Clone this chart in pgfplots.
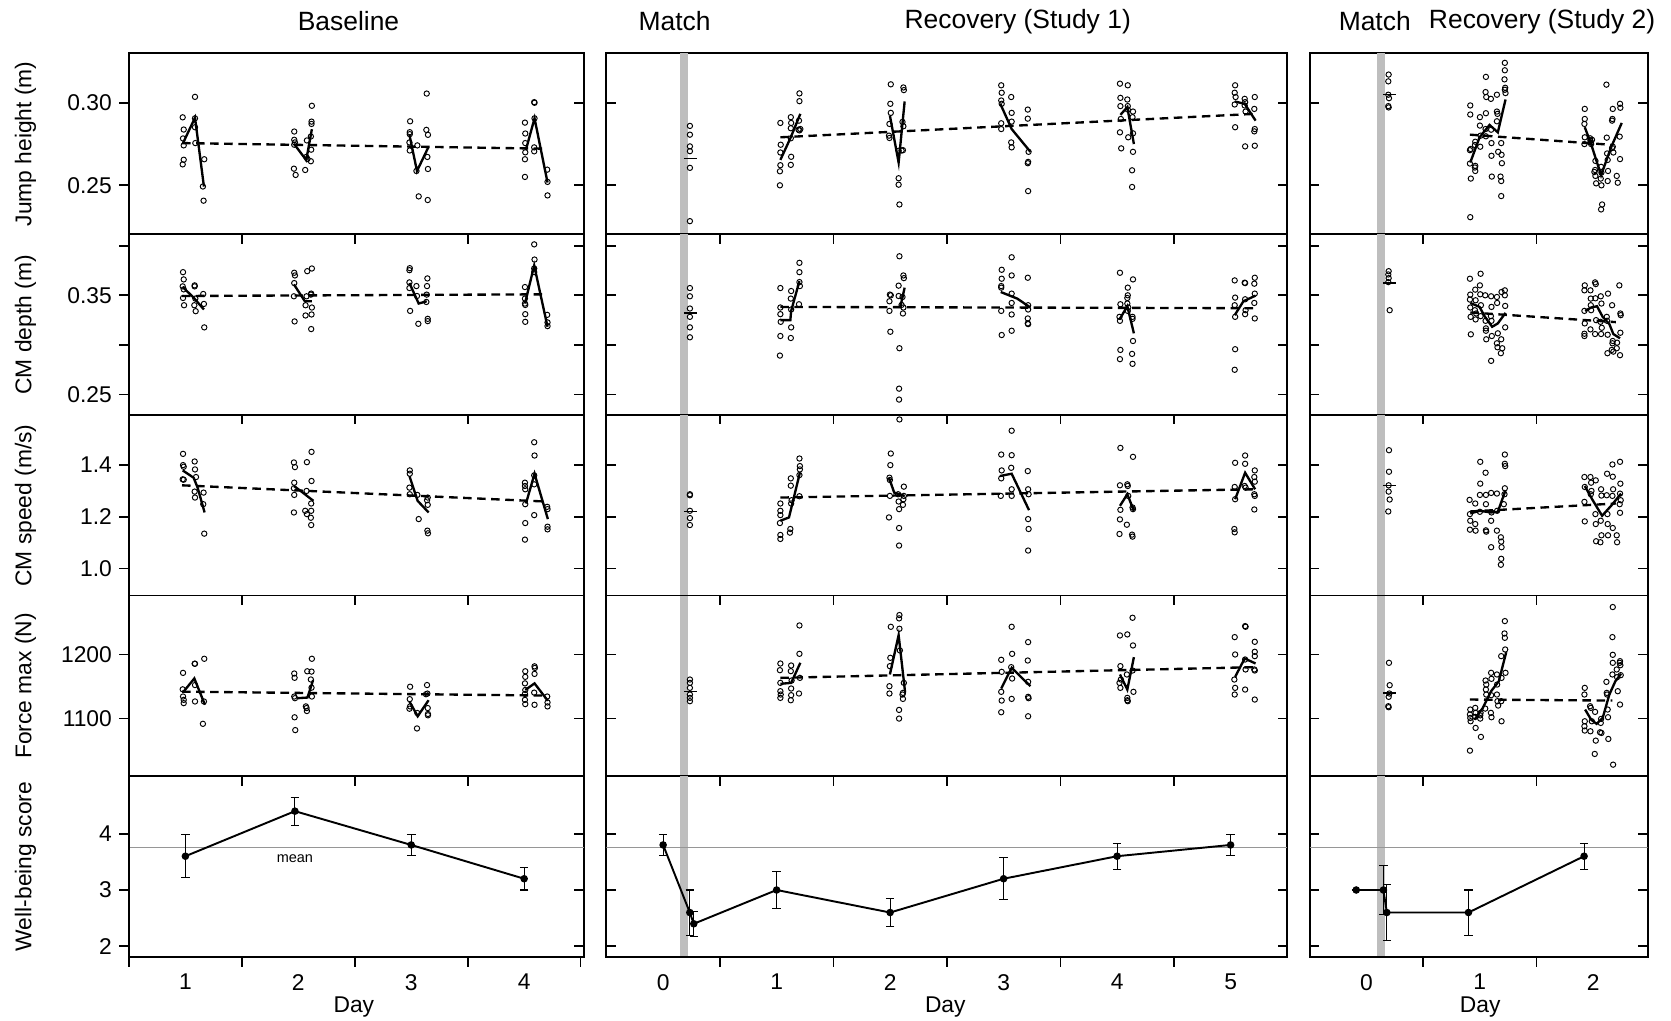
\documentclass[border=0pt]{standalone}
\usepackage{fontspec}
\setmainfont{Liberation Sans}
\usepackage{pgfplots}
\pgfplotsset{compat=1.18}
\newcommand{\lblfont}{\fontsize{10.7}{12.5}\selectfont}
\newcommand{\ttlfont}{\fontsize{12.4}{14}\selectfont}
\definecolor{band}{RGB}{190,190,190}
\definecolor{meanline}{RGB}{150,150,150}
\pgfplotsset{
 panel/.style={scale only axis, anchor=north west, height=84.8pt,
   axis line style={line width=0.9pt}, major tick length=4.5pt,
   tick style={black, line width=0.8pt}, tick align=inside,
   xticklabels={}, yticklabels={}, tick label style={font=\lblfont},
   /pgf/number format/assume math mode=true},
 c1/.style={at={(60.5pt,#1)}, width=213.5pt, xmin=0.5, xmax=4.53},
 c2/.style={at={(284.5pt,#1)}, width=319.5pt, xmin=-0.5, xmax=5.5},
 c3/.style={at={(614.5pt,#1)}, width=158.5pt, xmin=-0.5, xmax=2.48},
 r1/.style={ymin=0.2205, ymax=0.330, ytick={0.25,0.30}},
 r2/.style={ymin=0.2297, ymax=0.4117, ytick={0.25,0.30,0.35,0.40}},
 r3/.style={ymin=0.895, ymax=1.595, ytick={1.0,1.2,1.4}},
 r4/.style={ymin=1010, ymax=1292, ytick={1100,1200}},
 r5/.style={ymin=1.81, ymax=5.02, ytick={2,3,4}},
 top1/.style={xtick={1.5,2.5,3.5}, xtick pos=right},
 top2/.style={xtick={0.5,1.5,2.5,3.5,4.5}, xtick pos=right},
 top3/.style={xtick={0.5,1.5}, xtick pos=right},
 notop/.style={xtick=\empty},
 leftax/.style={axis x line=none, axis y line*=left, tick align=outside, ytick pos=left},
 botax/.style={axis y line=none, axis x line*=bottom, tick align=outside, xtick pos=left,
   extra x tick style={tick style={draw=none}}},
 pts/.style={only marks, mark=o, mark size=1.25pt, mark options={black, line width=0.45pt}},
 sol/.style={black, line width=1.1pt, mark=none},
 dsh/.style={black, line width=1.1pt, mark=none, dash pattern=on 4pt off 2.6pt},
 mtick/.style={black, line width=0.6pt, mark=none},
 wb/.style={black, line width=0.9pt, mark=*, mark size=1.3pt, mark options={black},
   error bars/.cd, y dir=both, y explicit, error bar style={line width=0.5pt},
   error mark options={rotate=90, mark size=2pt, line width=0.5pt}},
}
\begin{document}
\begin{tikzpicture}
\useasboundingbox (0pt,0pt) rectangle (784pt,-479pt);
% ================= COLUMN 1 =================
% Row 1
\begin{axis}[panel, c1=-25pt, r1, notop, ytick pos=right]
\addplot[pts] coordinates {(1.085,0.3036) (0.976,0.2912) (1.085,0.2906) (0.985,0.2838) (1.085,0.2852) (0.979,0.2784) (0.985,0.2742) (1.088,0.2756) (0.985,0.2655) (0.976,0.2627) (1.167,0.2658) (1.155,0.2493) (1.161,0.2407)
(1.964,0.2826) (1.964,0.2776) (1.970,0.2760) (1.964,0.2746) (1.961,0.2601) (1.976,0.2563) (2.061,0.2593) (2.076,0.2772) (2.070,0.2672) (2.081,0.2660) (2.111,0.2646) (2.120,0.2982) (2.117,0.2886) (2.117,0.2872) (2.111,0.2796) (2.114,0.2716)
(2.990,0.2888) (2.987,0.2822) (2.987,0.2810) (2.984,0.2760) (2.987,0.2711) (3.054,0.2742) (3.046,0.2587) (3.066,0.2433) (3.137,0.3056) (3.134,0.2836) (3.148,0.2806) (3.143,0.2672) (3.148,0.2599) (3.146,0.2411)
(4.007,0.2880) (4.010,0.2814) (4.010,0.2756) (4.010,0.2700) (4.007,0.2658) (4.007,0.2551) (4.092,0.3000) (4.089,0.3004) (4.092,0.2906) (4.089,0.2730) (4.089,0.2706) (4.204,0.2595) (4.207,0.2521) (4.207,0.2439)};
\addplot[sol] coordinates {(0.979,0.2756) (1.085,0.2910) (1.164,0.2493)};
\addplot[sol] coordinates {(1.961,0.2752) (2.070,0.2653) (2.120,0.2840)};
\addplot[sol] coordinates {(2.984,0.2806) (3.051,0.2587) (3.151,0.2730)};
\addplot[sol] coordinates {(4.016,0.2716) (4.092,0.2906) (4.207,0.2517)};
\addplot[dsh] coordinates {(0.97,0.2756) (4.19,0.2722)};
\end{axis}
\begin{axis}[panel, c1=-25pt, r1, leftax, yticklabels={0.25,0.30}]
\end{axis}
% Row 2
\begin{axis}[panel, c1=-109.8pt, r2, top1, ytick pos=right]
\addplot[pts] coordinates {(0.979,0.3733) (0.985,0.3660) (0.976,0.3590) (0.985,0.3560) (0.979,0.3473) (0.988,0.3400) (1.082,0.3600) (1.082,0.3590) (1.079,0.3400) (1.091,0.3340) (1.088,0.3467) (1.158,0.3513) (1.164,0.3413) (1.167,0.3177)
(1.964,0.3727) (1.970,0.3700) (1.964,0.3623) (1.961,0.3490) (1.967,0.3237) (2.079,0.3743) (2.120,0.3770) (2.073,0.3490) (2.114,0.3517) (2.111,0.3507) (2.064,0.3400) (2.120,0.3377) (2.064,0.3297) (2.117,0.3307) (2.114,0.3160)
(2.987,0.3773) (2.984,0.3753) (2.984,0.3630) (2.984,0.3573) (3.046,0.3593) (3.051,0.3493) (2.990,0.3343) (3.063,0.3213) (3.143,0.3670) (3.140,0.3593) (3.137,0.3507) (3.134,0.3433) (3.146,0.3263) (3.146,0.3240)
(4.007,0.3583) (4.007,0.3467) (4.007,0.3417) (4.010,0.3403) (4.010,0.3310) (4.010,0.3233) (4.089,0.4013) (4.092,0.3860) (4.089,0.3770) (4.089,0.3733) (4.204,0.3303) (4.207,0.3227) (4.207,0.3190)};
\addplot[sol] coordinates {(0.976,0.3583) (1.070,0.3480) (1.164,0.3357)};
\addplot[sol] coordinates {(1.961,0.3610) (2.058,0.3440) (2.120,0.3440)};
\addplot[sol] coordinates {(2.984,0.3623) (3.066,0.3417) (3.137,0.3440)};
\addplot[sol] coordinates {(4.007,0.3417) (4.089,0.3800) (4.207,0.3183)};
\addplot[dsh] coordinates {(0.97,0.3493) (4.19,0.3510)};
\end{axis}
\begin{axis}[panel, c1=-109.8pt, r2, leftax, yticklabels={0.25,,0.35,}]
\end{axis}
% Row 3
\begin{axis}[panel, c1=-194.6pt, r3, top1, ytick pos=right]
\addplot[pts] coordinates {(0.979,1.4436) (0.979,1.4000) (0.985,1.3936) (0.976,1.3449) (0.985,1.3436) (1.082,1.4141) (1.085,1.3833) (1.094,1.3538) (1.082,1.2974) (1.085,1.2744) (1.161,1.2936) (1.158,1.2487) (1.167,1.1346)
(1.961,1.4103) (1.970,1.3923) (2.076,1.4115) (2.117,1.4513) (1.964,1.3320) (1.961,1.3103) (1.964,1.2846) (2.117,1.3385) (2.073,1.3000) (2.061,1.2231) (2.076,1.2103) (2.114,1.2513) (2.114,1.2231) (2.111,1.1962) (2.114,1.1679) (1.961,1.2167)
(2.987,1.3795) (2.987,1.3667) (2.984,1.3128) (2.987,1.2872) (3.054,1.2846) (3.066,1.1910) (3.146,1.2744) (3.140,1.2641) (3.146,1.2462) (3.143,1.1462) (3.148,1.1359)
(4.089,1.4885) (4.092,1.4372) (4.089,1.3603) (4.089,1.3256) (4.007,1.3320) (4.007,1.3192) (4.010,1.3064) (4.010,1.2487) (4.010,1.1756) (4.007,1.1115) (4.089,1.2064) (4.204,1.2385) (4.207,1.2295) (4.207,1.1615) (4.207,1.1513)};
\addplot[sol] coordinates {(0.976,1.3795) (1.073,1.3510) (1.108,1.3130) (1.170,1.2167)};
\addplot[sol] coordinates {(1.961,1.3192) (2.028,1.2974) (2.134,1.2615)};
\addplot[sol] coordinates {(2.984,1.3577) (3.057,1.2615) (3.154,1.2167)};
\addplot[sol] coordinates {(4.016,1.2513) (4.092,1.3667) (4.210,1.1910)};
\addplot[dsh] coordinates {(0.97,1.3218) (4.19,1.2590)};
\end{axis}
\begin{axis}[panel, c1=-194.6pt, r3, leftax, yticklabels={1.0,1.2,1.4}]
\end{axis}
% Row 4
\begin{axis}[panel, c1=-279.4pt, r4, top1, ytick pos=right]
\addplot[pts] coordinates {(0.979,1171.3) (0.976,1145.6) (0.979,1134.4) (0.985,1129.2) (0.985,1124.1) (1.082,1185.6) (1.085,1185.6) (1.085,1152.3) (1.085,1126.7) (1.167,1193.3) (1.164,1126.7) (1.155,1091.8)
(1.964,1170.3) (1.967,1163.6) (1.964,1134.4) (1.970,1131.8) (2.079,1173.8) (2.117,1173.3) (2.111,1161.0) (2.120,1193.3) (2.117,1148.2) (2.120,1134.4) (2.067,1119.0) (2.073,1116.4) (2.076,1111.8) (1.967,1102.0) (1.973,1082.0)
(2.990,1149.7) (2.987,1130.3) (2.990,1119.0) (2.984,1115.4) (3.054,1108.7) (3.051,1084.6) (3.140,1152.3) (3.143,1139.0) (3.131,1138.0) (3.146,1116.4) (3.148,1107.2) (3.148,1105.1)
(4.010,1173.8) (4.010,1165.1) (4.007,1154.9) (4.010,1144.6) (4.007,1138.5) (4.007,1129.2) (4.010,1122.6) (4.092,1181.5) (4.095,1179.0) (4.092,1169.7) (4.089,1140.5) (4.092,1121.5) (4.204,1134.4) (4.207,1125.1) (4.207,1119.0)};
\addplot[sol] coordinates {(0.979,1141.0) (1.079,1162.6) (1.173,1121.5)};
\addplot[sol] coordinates {(1.993,1131.8) (2.081,1132.8) (2.131,1160.0)};
\addplot[sol] coordinates {(2.984,1126.7) (3.057,1103.6) (3.154,1128.7)};
\addplot[sol] coordinates {(4.010,1144.6) (4.092,1154.9) (4.210,1127.7)};
\addplot[dsh] coordinates {(0.97,1142.0) (4.19,1135.9)};
\end{axis}
\begin{axis}[panel, c1=-279.4pt, r4, leftax, yticklabels={1100,1200}]
\end{axis}
% Row 5
\begin{axis}[panel, c1=-364.2pt, r5, top1, ytick pos=right]
\addplot[color=meanline, line width=0.6pt, mark=none] coordinates {(0.5,3.75) (4.53,3.75)};
\addplot[wb] coordinates {(1,3.6) +- (0,0.38) (1.97,4.4) +- (0,0.25) (3,3.8) +- (0,0.19) (4,3.2) +- (0,0.2)};
\node[font=\fontsize{6.8}{8}\selectfont] at (axis cs:1.97,3.55) {mean};
\end{axis}
\begin{axis}[panel, c1=-364.2pt, r5, leftax, yticklabels={2,3,4}]
\end{axis}
\begin{axis}[panel, c1=-364.2pt, r5, botax, xtick={0.5,1.5,2.5,3.5,4.5}, extra x ticks={1,2,3,4}, extra x tick labels={1,2,3,4}]
\end{axis}
% ================= COLUMN 2 =================
% Row 1
\begin{axis}[panel, c2=-25pt, r1, notop, ytick pos=both]
\addplot[draw=none, fill=band] coordinates {(0.152,0.2205) (0.152,0.330) (0.221,0.330) (0.221,0.2205)} -- cycle;
\addplot[pts] coordinates {(0.236,0.2860) (0.236,0.2807) (0.236,0.2736) (0.236,0.2707) (0.236,0.2606) (0.236,0.2283)
(1.033,0.2878) (1.036,0.2746) (1.033,0.2699) (1.033,0.2622) (1.029,0.2585) (1.029,0.2500) (1.125,0.2913) (1.128,0.2878) (1.125,0.2846) (1.128,0.2673) (1.125,0.2624) (1.125,0.2785) (1.201,0.3057) (1.201,0.3010) (1.197,0.2892) (1.209,0.2841) (1.201,0.2833) (1.193,0.2837)
(2.006,0.3112) (2.002,0.2994) (2.006,0.2939) (1.994,0.2872) (1.990,0.2801) (1.994,0.2787) (2.075,0.2709) (2.075,0.2543) (2.075,0.2504) (2.082,0.2384) (2.117,0.3093) (2.121,0.3077) (2.109,0.2884) (2.117,0.2858) (2.101,0.2711) (2.113,0.2713)
(2.979,0.3106) (2.983,0.3061) (2.979,0.3014) (2.983,0.2994) (2.979,0.2876) (2.979,0.2841) (3.067,0.3035) (3.071,0.2939) (3.071,0.2886) (3.067,0.2760) (3.071,0.2730) (3.213,0.2959) (3.213,0.2904) (3.220,0.2703) (3.216,0.2642) (3.213,0.2634) (3.216,0.2465)
(4.025,0.3116) (4.029,0.3030) (4.029,0.2980) (4.033,0.2902) (4.025,0.2821) (4.036,0.2724) (4.094,0.3106) (4.090,0.3020) (4.094,0.2980) (4.094,0.2959) (4.098,0.2791) (4.140,0.2947) (4.136,0.2913) (4.140,0.2815) (4.140,0.2703) (4.132,0.2591) (4.132,0.2490)
(5.040,0.3106) (5.036,0.3061) (5.044,0.3035) (5.036,0.2990) (5.040,0.2852) (5.124,0.3024) (5.128,0.3004) (5.124,0.2984) (5.132,0.2947) (5.128,0.2736) (5.213,0.3035) (5.209,0.2963) (5.213,0.2841) (5.209,0.2827) (5.213,0.2740)};
\addplot[mtick] coordinates {(0.182,0.2661) (0.297,0.2661)};
\addplot[sol] coordinates {(1.033,0.2654) (1.121,0.2785) (1.209,0.2933)};
\addplot[sol] coordinates {(1.998,0.2923) (2.075,0.2638) (2.128,0.3008)};
\addplot[sol] coordinates {(2.971,0.2994) (3.071,0.2841) (3.236,0.2703)};
\addplot[sol] coordinates {(4.029,0.2927) (4.090,0.2974) (4.148,0.2750)};
\addplot[sol] coordinates {(5.036,0.3008) (5.124,0.2994) (5.220,0.2892)};
\addplot[dsh] coordinates {(1.033,0.2791) (5.21,0.2933)};
\end{axis}
% Row 2
\begin{axis}[panel, c2=-109.8pt, r2, top2, ytick pos=both]
\addplot[draw=none, fill=band] coordinates {(0.152,0.2297) (0.152,0.4117) (0.221,0.4117) (0.221,0.2297)} -- cycle;
\addplot[pts] coordinates {(0.236,0.3573) (0.236,0.3490) (0.236,0.3367) (0.236,0.3283) (0.236,0.3177) (0.236,0.3077)
(1.033,0.3573) (1.033,0.3377) (1.033,0.3310) (1.036,0.3233) (1.033,0.3090) (1.029,0.2893) (1.128,0.3543) (1.125,0.3467) (1.128,0.3357) (1.128,0.3177) (1.125,0.3070) (1.201,0.3827) (1.201,0.3733) (1.201,0.3633) (1.205,0.3593) (1.197,0.3410)
(2.082,0.3893) (1.998,0.3507) (2.006,0.3500) (1.994,0.3440) (1.994,0.3343) (2.002,0.3133) (2.082,0.2967) (2.079,0.2560) (2.079,0.2450) (2.075,0.3597) (2.075,0.3493) (2.117,0.3700) (2.121,0.3673) (2.109,0.3483) (2.117,0.3377) (2.113,0.3317) (2.101,0.3403)
(2.983,0.3757) (2.983,0.3667) (2.979,0.3593) (2.979,0.3577) (2.979,0.3343) (2.983,0.3100) (3.071,0.3883) (3.071,0.3700) (3.071,0.3517) (3.071,0.3423) (3.071,0.3307) (3.071,0.3143) (3.213,0.3677) (3.216,0.3400) (3.216,0.3357) (3.213,0.3267) (3.213,0.3217) (3.216,0.3210)
(4.025,0.3727) (4.029,0.3410) (4.021,0.3283) (4.025,0.3243) (4.029,0.2950) (4.025,0.2857) (4.094,0.3577) (4.094,0.3500) (4.090,0.3473) (4.090,0.3417) (4.098,0.3377) (4.094,0.3343) (4.140,0.3660) (4.136,0.3283) (4.136,0.3263) (4.140,0.3040) (4.132,0.2910) (4.136,0.2810)
(5.036,0.3650) (5.040,0.3477) (5.036,0.3400) (5.040,0.3283) (5.040,0.2957) (5.036,0.2750) (5.124,0.3627) (5.128,0.3623) (5.128,0.3460) (5.132,0.3350) (5.128,0.3310) (5.213,0.3677) (5.209,0.3617) (5.213,0.3517) (5.209,0.3423) (5.213,0.3267)};
\addplot[mtick] coordinates {(0.182,0.3323) (0.297,0.3323)};
\addplot[sol] coordinates {(1.033,0.3250) (1.121,0.3250) (1.128,0.3343) (1.201,0.3643)};
\addplot[sol] coordinates {(2.029,0.3383) (2.090,0.3383) (2.128,0.3577)};
\addplot[sol] coordinates {(2.975,0.3533) (3.120,0.3467) (3.236,0.3377)};
\addplot[sol] coordinates {(4.021,0.3257) (4.090,0.3390) (4.148,0.3117)};
\addplot[sol] coordinates {(5.036,0.3300) (5.113,0.3440) (5.220,0.3497)};
\addplot[dsh] coordinates {(1.033,0.3383) (5.21,0.3370)};
\end{axis}
% Row 3
\begin{axis}[panel, c2=-194.6pt, r3, top2, ytick pos=both]
\addplot[draw=none, fill=band] coordinates {(0.152,0.895) (0.152,1.595) (0.221,1.595) (0.221,0.895)} -- cycle;
\addplot[pts] coordinates {(0.236,1.2872) (0.236,1.2833) (0.236,1.2231) (0.236,1.1949) (0.236,1.1679)
(1.033,1.2513) (1.033,1.2231) (1.033,1.2064) (1.029,1.1756) (1.033,1.1295) (1.033,1.1141) (1.125,1.3487) (1.125,1.3205) (1.132,1.2641) (1.128,1.2513) (1.121,1.1526) (1.117,1.1385) (1.201,1.4256) (1.205,1.3962) (1.205,1.3833) (1.201,1.3615) (1.201,1.2795)
(2.082,1.5769) (2.006,1.4449) (2.002,1.4000) (1.994,1.3513) (1.998,1.3423) (1.998,1.2808) (1.990,1.1974) (2.079,1.1564) (2.079,1.0885) (2.071,1.2872) (2.075,1.2590) (2.079,1.2295) (2.121,1.3167) (2.121,1.2808) (2.117,1.2679) (2.113,1.2462)
(2.979,1.4410) (2.983,1.3795) (2.979,1.3487) (2.975,1.2808) (3.071,1.5333) (3.071,1.4385) (3.067,1.3897) (3.071,1.3064) (3.071,1.2808) (3.213,1.3769) (3.216,1.3064) (3.220,1.2872) (3.216,1.1910) (3.220,1.1526) (3.216,1.0692)
(4.029,1.4667) (4.025,1.3218) (4.029,1.2269) (4.025,1.1897) (4.021,1.1333) (4.140,1.4321) (4.090,1.3256) (4.094,1.3192) (4.098,1.2808) (4.136,1.2359) (4.140,1.2295) (4.086,1.1692) (4.132,1.1308) (4.136,1.1231)
(5.040,1.4090) (5.036,1.3154) (5.040,1.2679) (5.033,1.1526) (5.036,1.1397) (5.128,1.4372) (5.128,1.4051) (5.124,1.3192) (5.132,1.3128) (5.213,1.3795) (5.209,1.3538) (5.213,1.3359) (5.209,1.2872) (5.213,1.2808) (5.209,1.2282)};
\addplot[mtick] coordinates {(0.182,1.2205) (0.297,1.2205)};
\addplot[sol] coordinates {(1.033,1.1846) (1.109,1.1974) (1.205,1.3705)};
\addplot[sol] coordinates {(1.990,1.3513) (2.036,1.2936) (2.128,1.2808)};
\addplot[sol] coordinates {(2.967,1.3577) (3.071,1.3667) (3.224,1.2256)};
\addplot[sol] coordinates {(4.025,1.2423) (4.090,1.2872) (4.148,1.2231)};
\addplot[sol] coordinates {(5.040,1.2679) (5.128,1.3705) (5.216,1.3064)};
\addplot[dsh] coordinates {(1.033,1.2744) (5.21,1.3064)};
\end{axis}
% Row 4
\begin{axis}[panel, c2=-279.4pt, r4, top2, ytick pos=both]
\addplot[draw=none, fill=band] coordinates {(0.152,1010) (0.152,1292) (0.221,1292) (0.221,1010)} -- cycle;
\addplot[pts] coordinates {(0.236,1160.9) (0.236,1155.7) (0.236,1147.9) (0.236,1137.5) (0.236,1132.3) (0.236,1127.1)
(1.033,1185.9) (1.029,1175.5) (1.033,1155.7) (1.033,1142.7) (1.036,1137.5) (1.033,1132.3) (1.128,1182.8) (1.125,1174.0) (1.132,1159.4) (1.128,1146.9) (1.128,1136.5) (1.125,1128.6) (1.201,1245.3) (1.201,1201.0) (1.205,1163.5) (1.197,1139.1)
(2.082,1261.5) (2.079,1256.3) (2.082,1240.1) (2.006,1243.2) (2.002,1194.8) (1.998,1181.8) (1.994,1150.5) (1.994,1139.1) (2.086,1206.3) (2.121,1155.7) (2.113,1140.1) (2.109,1137.5) (2.113,1130.7) (2.079,1113.5) (2.079,1100.0)
(3.071,1243.2) (3.075,1201.0) (2.979,1191.7) (2.983,1172.9) (3.067,1180.2) (3.075,1162.5) (2.979,1141.7) (2.983,1128.1) (2.979,1109.9) (3.071,1130.7) (3.216,1219.3) (3.213,1190.6) (3.216,1157.3) (3.216,1133.9) (3.220,1131.8) (3.216,1103.6)
(4.025,1229.7) (4.090,1231.3) (4.136,1257.3) (4.140,1214.1) (4.029,1181.8) (4.086,1168.8) (4.033,1160.9) (4.021,1155.7) (4.029,1147.9) (4.136,1175.0) (4.144,1141.7) (4.090,1132.3) (4.090,1128.6) (4.094,1127.1)
(5.128,1244.3) (5.132,1243.2) (5.036,1227.1) (5.040,1200.0) (5.033,1160.9) (5.040,1147.9) (5.036,1137.5) (5.128,1192.2) (5.132,1176.6) (5.128,1145.3) (5.213,1219.8) (5.213,1204.2) (5.213,1197.4) (5.209,1176.6) (5.213,1175.0) (5.213,1129.7)};
\addplot[mtick] coordinates {(0.182,1142.7) (0.297,1142.7)};
\addplot[sol] coordinates {(1.033,1154.2) (1.128,1155.7) (1.209,1187.0)};
\addplot[sol] coordinates {(1.998,1168.8) (2.075,1230.2) (2.132,1141.1)};
\addplot[sol] coordinates {(2.979,1146.9) (3.071,1179.2) (3.236,1150.5)};
\addplot[sol] coordinates {(4.025,1168.8) (4.090,1145.3) (4.148,1195.8)};
\addplot[sol] coordinates {(5.040,1165.1) (5.124,1193.8) (5.220,1185.9)};
\addplot[dsh] coordinates {(1.033,1163.5) (5.21,1180.2)};
\end{axis}
% Row 5
\begin{axis}[panel, c2=-364.2pt, r5, top2, ytick pos=both]
\addplot[draw=none, fill=band] coordinates {(0.152,1.81) (0.152,5.02) (0.221,5.02) (0.221,1.81)} -- cycle;
\addplot[color=meanline, line width=0.6pt, mark=none] coordinates {(-0.5,3.75) (5.5,3.75)};
\addplot[wb] coordinates {(0,3.8) +- (0,0.19) (0.235,2.6) +- (0,0.4) (0.27,2.4) +- (0,0.22) (1,3.0) +- (0,0.33) (2,2.6) +- (0,0.25) (3,3.2) +- (0,0.37) (4,3.6) +- (0,0.23) (5,3.8) +- (0,0.19)};
\end{axis}
\begin{axis}[panel, c2=-364.2pt, r5, botax, xtick={0.5,1.5,2.5,3.5,4.5}, extra x ticks={0,1,2,3,4,5}, extra x tick labels={0,1,2,3,4,5}]
\end{axis}
% ================= COLUMN 3 =================
% Row 1
\begin{axis}[panel, c3=-25pt, r1, notop, ytick pos=both]
\addplot[draw=none, fill=band] coordinates {(0.093,0.2205) (0.093,0.330) (0.167,0.330) (0.167,0.2205)} -- cycle;
\addplot[pts] coordinates {(0.196,0.3171) (0.193,0.3130) (0.193,0.3049) (0.199,0.3028) (0.193,0.2980) (0.196,0.2972)
(0.916,0.2984) (0.916,0.2929) (0.919,0.2720) (0.913,0.2713) (0.913,0.2632) (0.921,0.2541) (0.916,0.2307)
(0.960,0.2764) (0.957,0.2744) (0.960,0.2618) (0.957,0.2608) (0.960,0.2587)
(1.001,0.2913) (1.001,0.2862) (1.007,0.2801) (1.004,0.2734)
(1.054,0.3157) (1.051,0.3065) (1.057,0.3035) (1.054,0.2937) (1.054,0.2797) (1.051,0.2841)
(1.098,0.3024) (1.100,0.2837) (1.103,0.2756) (1.103,0.2679) (1.106,0.2553)
(1.151,0.3049) (1.151,0.2947) (1.156,0.2933) (1.151,0.2888) (1.162,0.2703)
(1.189,0.2756) (1.192,0.2685) (1.195,0.2634) (1.183,0.2553) (1.189,0.2526) (1.189,0.2435)
(1.221,0.3242) (1.221,0.3197) (1.218,0.3142) (1.224,0.3091) (1.221,0.3079) (1.227,0.3059)
(1.926,0.2963) (1.926,0.2902) (1.923,0.2872) (1.926,0.2791) (1.923,0.2750)
(1.973,0.2785) (1.976,0.2770) (1.982,0.2750) (1.990,0.2776) (1.979,0.2760)
(2.020,0.2648) (2.017,0.2593) (2.011,0.2581) (2.020,0.2557) (2.026,0.2512)
(2.070,0.2612) (2.073,0.2577) (2.067,0.2541) (2.073,0.2500) (2.079,0.2384) (2.070,0.2354)
(2.117,0.3110) (2.120,0.2789) (2.123,0.2693) (2.128,0.2654) (2.131,0.2587) (2.128,0.2526)
(2.173,0.2963) (2.170,0.2902) (2.167,0.2892) (2.173,0.2734) (2.167,0.2726) (2.178,0.2699)
(2.208,0.2557) (2.217,0.2516)
(2.237,0.2994) (2.240,0.2970) (2.234,0.2795) (2.237,0.2659)};
\addplot[mtick] coordinates {(0.146,0.3051) (0.264,0.3051)};
\addplot[sol] coordinates {(0.916,0.2638) (0.998,0.2791) (1.086,0.2866) (1.159,0.2821) (1.227,0.3020)};
\addplot[sol] coordinates {(1.926,0.2852) (1.982,0.2750) (2.070,0.2561) (2.158,0.2730) (2.252,0.2878)};
\addplot[dsh] coordinates {(0.913,0.2807) (2.17,0.2745)};
\end{axis}
% Row 2
\begin{axis}[panel, c3=-109.8pt, r2, top3, ytick pos=both]
\addplot[draw=none, fill=band] coordinates {(0.093,0.2297) (0.093,0.4117) (0.167,0.4117) (0.167,0.2297)} -- cycle;
\addplot[pts] coordinates {(0.196,0.3743) (0.193,0.3710) (0.196,0.3673) (0.193,0.3633) (0.205,0.3350)
(0.913,0.3667) (0.916,0.3507) (0.913,0.3457) (0.916,0.3377) (0.919,0.3283) (0.921,0.3107)
(0.960,0.3557) (0.963,0.3450) (0.957,0.3350) (0.963,0.3257) (0.968,0.3317)
(1.001,0.3600) (1.007,0.3717) (1.004,0.3510) (1.010,0.3400) (1.007,0.3290)
(1.048,0.3500) (1.051,0.3243) (1.054,0.3167) (1.057,0.3057) (1.054,0.3143)
(1.100,0.3490) (1.103,0.3383) (1.098,0.3290) (1.103,0.3243) (1.106,0.3090) (1.100,0.2840)
(1.151,0.3483) (1.153,0.3423) (1.159,0.3117) (1.151,0.3017) (1.156,0.2977)
(1.192,0.3533) (1.198,0.2967) (1.186,0.2917) (1.189,0.3057)
(1.221,0.3550) (1.221,0.3500) (1.224,0.3393) (1.224,0.3177)
(1.926,0.3600) (1.923,0.3550) (1.923,0.3343) (1.926,0.3217) (1.923,0.3113) (1.923,0.3090)
(1.976,0.3550) (1.979,0.3467) (1.979,0.3400) (1.982,0.3350) (1.976,0.3157)
(2.017,0.3630) (2.023,0.3613) (2.020,0.3470) (2.026,0.3250) (2.017,0.3110)
(2.067,0.3490) (2.073,0.3417) (2.064,0.3233) (2.070,0.3110) (2.076,0.3173)
(2.120,0.3283) (2.123,0.3243) (2.128,0.3103) (2.131,0.3517) (2.126,0.2917)
(2.167,0.3400) (2.173,0.3040) (2.170,0.3017) (2.164,0.2950) (2.178,0.2933)
(2.208,0.2967) (2.211,0.3023)
(2.231,0.3600) (2.240,0.3317) (2.243,0.3300) (2.240,0.3123) (2.237,0.2897)};
\addplot[mtick] coordinates {(0.146,0.3623) (0.264,0.3623)};
\addplot[sol] coordinates {(0.916,0.3423) (0.998,0.3383) (1.042,0.3290) (1.109,0.3183) (1.159,0.3217) (1.227,0.3323)};
\addplot[sol] coordinates {(1.929,0.3343) (1.982,0.3377) (2.034,0.3390) (2.084,0.3283) (2.143,0.3210) (2.178,0.3110) (2.237,0.3067)};
\addplot[dsh] coordinates {(0.916,0.3327) (2.20,0.3230)};
\end{axis}
% Row 3
\begin{axis}[panel, c3=-194.6pt, r3, top3, ytick pos=both]
\addplot[draw=none, fill=band] coordinates {(0.093,0.895) (0.093,1.595) (0.167,1.595) (0.167,0.895)} -- cycle;
\addplot[pts] coordinates {(0.199,1.4577) (0.199,1.3744) (0.196,1.3218) (0.196,1.2974) (0.205,1.2667) (0.193,1.2205)
(0.910,1.2654) (0.913,1.2103) (0.916,1.1846) (0.913,1.1500)
(0.960,1.2513) (0.960,1.1718) (0.963,1.1462)
(1.004,1.4128) (1.001,1.2192) (1.004,1.3282) (1.001,1.2846)
(1.051,1.3705) (1.054,1.2846) (1.054,1.2487) (1.054,1.1474) (1.057,1.1423)
(1.100,1.2923) (1.103,1.2167) (1.100,1.1846) (1.100,1.0821)
(1.151,1.2900) (1.153,1.2231) (1.151,1.1462)
(1.186,1.1205) (1.189,1.1038) (1.192,1.0821) (1.189,1.0372) (1.186,1.0141)
(1.221,1.4410) (1.221,1.4051) (1.224,1.3962) (1.221,1.3103) (1.218,1.2872) (1.212,1.2487)
(1.923,1.3538) (1.926,1.3154) (1.923,1.2577) (1.926,1.1821)
(1.976,1.3538) (1.982,1.3320) (1.985,1.3000) (1.979,1.2872)
(2.023,1.3410) (2.020,1.2103) (2.023,1.1718) (2.026,1.1051)
(2.070,1.3064) (2.073,1.2821) (2.067,1.1846) (2.073,1.1282) (2.064,1.1013)
(2.123,1.3667) (2.120,1.2833) (2.126,1.2103) (2.128,1.1718) (2.131,1.1282)
(2.170,1.4026) (2.173,1.3551) (2.176,1.3064) (2.170,1.2808) (2.173,1.1564)
(2.208,1.1282) (2.211,1.1013)
(2.237,1.4128) (2.240,1.3282) (2.237,1.2897) (2.243,1.2641) (2.237,1.2154) (2.234,1.2487)};
\addplot[mtick] coordinates {(0.146,1.3218) (0.264,1.3218)};
\addplot[sol] coordinates {(0.916,1.2128) (0.998,1.2231) (1.100,1.2167) (1.159,1.2192) (1.227,1.3026)};
\addplot[sol] coordinates {(1.926,1.3192) (1.996,1.2641) (2.079,1.2038) (2.158,1.2423) (2.246,1.2897)};
\addplot[dsh] coordinates {(0.916,1.2205) (2.20,1.2513)};
\end{axis}
% Row 4
\begin{axis}[panel, c3=-279.4pt, r4, top3, ytick pos=both]
\addplot[draw=none, fill=band] coordinates {(0.093,1010) (0.093,1292) (0.167,1292) (0.167,1010)} -- cycle;
\addplot[pts] coordinates {(0.199,1187.0) (0.205,1152.1) (0.202,1139.1) (0.196,1133.9) (0.193,1119.3) (0.196,1117.7)
(0.916,1114.1) (0.913,1106.3) (0.916,1101.0) (0.919,1095.8) (0.913,1050.0)
(0.960,1116.7) (0.963,1108.9) (0.960,1102.6) (0.963,1085.4)
(1.007,1108.9) (1.004,1100.0) (1.010,1071.4) (1.004,1105.0)
(1.051,1159.4) (1.057,1153.1) (1.054,1145.3) (1.057,1137.5) (1.048,1115.6)
(1.100,1171.4) (1.103,1162.0) (1.100,1136.5) (1.098,1108.9) (1.103,1102.1)
(1.151,1168.8) (1.153,1153.1) (1.151,1137.5) (1.156,1127.1) (1.162,1120.3)
(1.189,1197.4) (1.192,1163.5) (1.189,1127.1) (1.192,1095.8)
(1.221,1252.1) (1.218,1232.8) (1.221,1226.0) (1.224,1207.8) (1.227,1171.4)
(1.926,1147.9) (1.923,1137.5) (1.926,1095.8) (1.923,1088.0) (1.926,1081.3)
(1.973,1119.3) (1.979,1116.7) (1.988,1095.8) (1.976,1080.2)
(2.017,1110.4) (2.023,1065.6) (2.014,1044.8)
(2.067,1093.2) (2.073,1077.6) (2.070,1099.5) (2.061,1078.6)
(2.117,1157.3) (2.120,1140.1) (2.123,1137.5) (2.128,1114.1) (2.131,1102.1) (2.134,1068.2)
(2.173,1274.0) (2.170,1227.1) (2.173,1199.5) (2.173,1187.0) (2.170,1168.8) (2.176,1028.1)
(2.208,1176.6) (2.211,1164.6) (2.217,1142.7)
(2.237,1189.6) (2.240,1183.3) (2.243,1167.7) (2.237,1121.9) (2.234,1187.0)};
\addplot[mtick] coordinates {(0.146,1140.1) (0.264,1140.1)};
\addplot[sol] coordinates {(0.954,1098.4) (1.027,1116.7) (1.100,1142.7) (1.168,1158.3) (1.233,1203.6)};
\addplot[sol] coordinates {(1.929,1114.1) (1.982,1098.4) (2.031,1091.7) (2.084,1101.0) (2.143,1137.5) (2.196,1158.3) (2.246,1169.8)};
\addplot[dsh] coordinates {(0.913,1129.7) (2.17,1128.1)};
\end{axis}
% Row 5
\begin{axis}[panel, c3=-364.2pt, r5, top3, ytick pos=both]
\addplot[draw=none, fill=band] coordinates {(0.093,1.81) (0.093,5.02) (0.167,5.02) (0.167,1.81)} -- cycle;
\addplot[color=meanline, line width=0.6pt, mark=none] coordinates {(-0.5,3.75) (2.48,3.75)};
\addplot[wb] coordinates {(-0.09,3.0) +- (0,0) (0.15,3.0) +- (0,0.43) (0.18,2.6) +- (0,0.5) (0.9,2.6) +- (0,0.4) (1.92,3.6) +- (0,0.23)};
\end{axis}
\begin{axis}[panel, c3=-364.2pt, r5, botax, xtick={0.5,1.5}, extra x ticks={0,1,2}, extra x tick labels={0,1,2}]
\end{axis}
% ================= TEXT =================
\node[font=\ttlfont] at (163.5pt,-10pt) {Baseline};
\node[font=\ttlfont] at (316.5pt,-10pt) {Match};
\node[font=\ttlfont] at (477.5pt,-10pt) {Recovery (Study 1)};
\node[font=\ttlfont] at (645pt,-10pt) {Match};
\node[font=\ttlfont] at (723.5pt,-10pt) {Recovery (Study 2)};
\node[font=\lblfont, rotate=90] at (12pt,-67.5pt) {Jump height (m)};
\node[font=\lblfont, rotate=90] at (12pt,-152.5pt) {CM depth (m)};
\node[font=\lblfont, rotate=90] at (12pt,-237.2pt) {CM speed (m/s)};
\node[font=\lblfont, rotate=90] at (12pt,-321.8pt) {Force max (N)};
\node[font=\lblfont, rotate=90] at (12pt,-406.5pt) {Well-being score};
\node[font=\lblfont] at (166pt,-472.5pt) {Day};
\node[font=\lblfont] at (443.5pt,-472.5pt) {Day};
\node[font=\lblfont] at (694.5pt,-472.5pt) {Day};
\end{tikzpicture}
\end{document}
